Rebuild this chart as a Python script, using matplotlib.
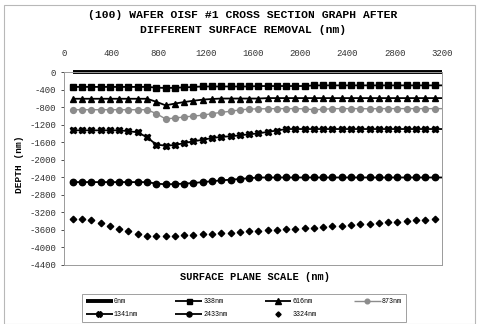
import matplotlib
matplotlib.use("Agg")
import matplotlib.pyplot as plt
from matplotlib.patches import Rectangle

plt.rcParams['font.family'] = ['Liberation Mono', 'DejaVu Sans Mono']
plt.rcParams['axes.unicode_minus'] = False

# ---- data ----
x_pos = [75, 154, 232, 311, 389, 468, 546, 625, 703, 782,
         860, 939, 1017, 1096, 1174, 1253, 1331, 1410, 1488, 1567,
         1645, 1724, 1802, 1881, 1959, 2038, 2116, 2195, 2273, 2352,
         2430, 2509, 2587, 2666, 2744, 2823, 2901, 2980, 3058, 3137]

s_0nm = [0, 0, 0, 0, 0, 0, 0, 0, 0, 0,
         0, 0, 0, 0, 0, 0, 0, 0, 0, 0,
         0, 0, 0, 0, 0, 0, 0, 0, 0, 0,
         0, 0, 0, 0, 0, 0, 0, 0, 0, 0]
s_338nm = [-340, -340, -340, -340, -340, -340, -340, -340, -340, -355,
           -365, -360, -350, -340, -330, -330, -330, -330, -330, -330,
           -320, -320, -320, -320, -320, -320, -305, -305, -305, -305,
           -305, -305, -305, -305, -305, -305, -305, -305, -305, -305]
s_616nm = [-610, -610, -610, -610, -610, -610, -610, -610, -610, -680,
           -760, -720, -685, -655, -630, -615, -605, -605, -605, -605,
           -605, -595, -595, -595, -595, -595, -595, -595, -595, -595,
           -595, -595, -595, -595, -595, -595, -595, -595, -595, -595]
s_873nm = [-860, -860, -860, -860, -860, -860, -860, -860, -860, -950,
           -1070, -1050, -1025, -1005, -985, -950, -920, -895, -865, -845,
           -840, -838, -836, -835, -835, -840, -860, -850, -835, -835,
           -835, -835, -840, -835, -835, -835, -835, -835, -835, -835]
s_1341nm = [-1330, -1330, -1330, -1330, -1330, -1330, -1350, -1375, -1490, -1655,
            -1680, -1665, -1620, -1580, -1545, -1505, -1480, -1465, -1445, -1420,
            -1400, -1365, -1335, -1300, -1300, -1300, -1300, -1300, -1300, -1300,
            -1300, -1300, -1300, -1300, -1300, -1300, -1300, -1300, -1300, -1300]
s_2433nm = [-2510, -2510, -2510, -2510, -2510, -2510, -2510, -2510, -2510, -2545,
            -2560, -2555, -2545, -2530, -2510, -2490, -2470, -2455, -2440, -2420,
            -2405, -2405, -2405, -2405, -2405, -2405, -2405, -2405, -2405, -2405,
            -2405, -2405, -2405, -2405, -2405, -2405, -2405, -2405, -2405, -2405]
s_3324nm = [-3345, -3345, -3365, -3435, -3500, -3580, -3630, -3695, -3745, -3745,
            -3745, -3740, -3725, -3715, -3700, -3690, -3670, -3660, -3650, -3635,
            -3625, -3610, -3595, -3585, -3580, -3565, -3550, -3535, -3520, -3500,
            -3490, -3470, -3460, -3440, -3425, -3410, -3395, -3380, -3365, -3350]

series_labels = ['0nm', '338nm', '616nm', '873nm', '1341nm', '2433nm', '3324nm']
x_ticks = [0, 400, 800, 1200, 1600, 2000, 2400, 2800, 3200]
y_ticks = [0, -400, -800, -1200, -1600, -2000, -2400, -2800, -3200, -3600, -4000, -4400]

title_text = "(100) WAFER OISF #1 CROSS SECTION GRAPH AFTER\nDIFFERENT SURFACE REMOVAL (nm)"
xlabel_text = "SURFACE PLANE SCALE (nm)"
ylabel_text = "DEPTH (nm)"

# ---- figure ----
W, H = 478, 324
fig = plt.figure(figsize=(W / 100, H / 100), dpi=100)
fig.patches.append(Rectangle((4 / W, 0), (475 - 4) / W, 1 - 5 / H,
                             transform=fig.transFigure, fill=False,
                             edgecolor='#b8b8b8', linewidth=0.8))

ax = fig.add_axes([64 / W, 1 - 265 / H, (442 - 64) / W, (265 - 72) / H])
ax.set_xlim(0, 3200)
ax.set_ylim(-4400, 0)

styles = [
    dict(color='black', lw=2.8, marker=None),
    dict(color='black', lw=1.3, marker='s', ms=4.5),
    dict(color='black', lw=1.3, marker='^', ms=5),
    dict(color='#8c8c8c', lw=1.0, marker='o', ms=4.2),
    dict(color='black', lw=1.3, marker='X', ms=5),
    dict(color='black', lw=1.3, marker='o', ms=4.6),
]
all_series = [s_0nm, s_338nm, s_616nm, s_873nm, s_1341nm, s_2433nm]
xmax = ax.get_xlim()[1]
handles = []
for ys, st, lab in zip(all_series, styles, series_labels):
    xx = list(x_pos) + [xmax]
    yy = list(ys) + [ys[-1]]
    line, = ax.plot(xx, yy, color=st['color'], lw=st['lw'],
                    marker=st['marker'], ms=st.get('ms', 0),
                    markevery=list(range(len(x_pos))),
                    mfc=st['color'], mec=st['color'], clip_on=False,
                    solid_capstyle='butt', label=lab)
    handles.append(line)
d, = ax.plot(x_pos, s_3324nm, ls='none', marker='D', ms=3.3,
             color='black', label=series_labels[6])
handles.append(d)

# axes styling
ax.xaxis.tick_top()
ax.set_xticks(x_ticks)
ax.set_xticklabels([str(v) for v in x_ticks])
ax.tick_params(axis='x', length=0, pad=10, labelsize=6.5, colors='#333333')
ax.set_yticks(y_ticks)
ax.set_yticklabels([str(v) for v in y_ticks])
ax.tick_params(axis='y', length=2.5, width=0.6, pad=3, labelsize=6.5,
               colors='#333333', direction='out')
for sp in ['left', 'bottom', 'right', 'top']:
    ax.spines[sp].set_color('#9a9a9a')
    ax.spines[sp].set_linewidth(0.7)

fig.text(243 / W, 1 - 22.5 / H, title_text, ha='center', va='center',
         fontsize=8.2, fontweight='bold', linespacing=1.6)
fig.text(255 / W, 1 - 277 / H, xlabel_text, ha='center', va='center',
         fontsize=7.5, fontweight='bold')
fig.text(20 / W, 1 - 164 / H, ylabel_text, ha='center', va='center',
         rotation=90, fontsize=6.8, fontweight='bold')

# legend filled row by row (matplotlib fills columns first)
order = [0, 4, 1, 5, 2, 6, 3]
leg = fig.legend(handles=[handles[i] for i in order],
                 labels=[series_labels[i] for i in order], ncol=4,
                 loc='upper left', mode='expand',
                 bbox_to_anchor=(82 / W, 1 - 323 / H, 324 / W, 29 / H),
                 fontsize=4.8, frameon=True, fancybox=False, markerscale=0.8,
                 handlelength=4.0, handletextpad=0.2, columnspacing=2.0,
                 labelspacing=0.9, borderpad=0.6, borderaxespad=0)
leg.get_frame().set_edgecolor('#888888')
leg.get_frame().set_linewidth(0.7)

fig.savefig('out.png', dpi=100)
